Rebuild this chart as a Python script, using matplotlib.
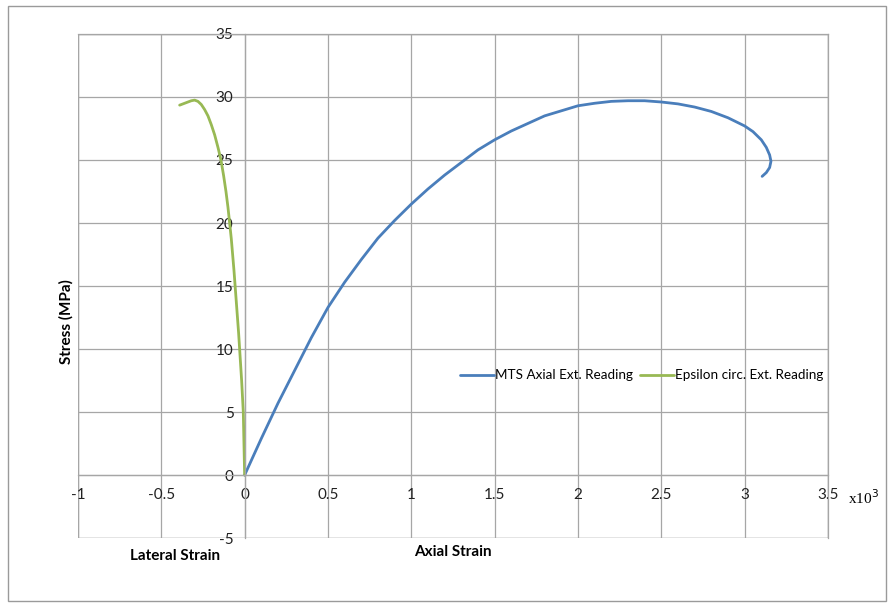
import matplotlib
matplotlib.use("Agg")
import matplotlib.pyplot as plt
from matplotlib.patches import Rectangle

plt.rcParams["font.family"] = ["Lato", "DejaVu Sans"]
plt.rcParams["axes.unicode_minus"] = False

# axial extensometer (x10^3 strain) vs stress (MPa)
axial_strain = [0.0, 0.1, 0.2, 0.3, 0.4, 0.5, 0.6, 0.7, 0.8, 0.9, 1.0, 1.1, 1.2, 1.3,
                1.4, 1.5, 1.6, 1.7, 1.8, 1.9, 2.0, 2.1, 2.2, 2.3, 2.4, 2.5, 2.6, 2.7,
                2.8, 2.9, 3.0, 3.05, 3.1, 3.13, 3.15, 3.158, 3.15, 3.13, 3.105]
axial_stress = [0.0, 2.9, 5.7, 8.3, 10.9, 13.3, 15.3, 17.1, 18.8, 20.2, 21.5, 22.7,
                23.8, 24.8, 25.8, 26.6, 27.3, 27.9, 28.5, 28.9, 29.3, 29.5, 29.65,
                29.7, 29.7, 29.6, 29.45, 29.2, 28.85, 28.35, 27.7, 27.25, 26.6, 26.0,
                25.4, 24.9, 24.4, 24.0, 23.7]

# circumferential extensometer (lateral strain, x10^3) vs stress (MPa)
lateral_strain = [0.0, -0.002, -0.004, -0.008, -0.013, -0.018, -0.024, -0.030, -0.036,
                  -0.043, -0.05, -0.057, -0.064, -0.072, -0.08, -0.09, -0.1, -0.112,
                  -0.126, -0.142, -0.16, -0.18, -0.2, -0.22, -0.24, -0.26, -0.28,
                  -0.3, -0.32, -0.34, -0.36, -0.38, -0.39]
lateral_stress = [0.0, 1.25, 2.5, 5.0, 6.25, 7.5, 8.75, 10.0, 11.25, 12.5, 13.75, 15.0,
                  16.25, 17.5, 18.75, 20.0, 21.25, 22.5, 23.75, 25.0, 26.0, 27.0, 27.8,
                  28.5, 29.0, 29.4, 29.65, 29.75, 29.7, 29.6, 29.5, 29.4, 29.35]

x_ticks = [-1, -0.5, 0, 0.5, 1, 1.5, 2, 2.5, 3, 3.5]
x_labels = ["-1", "-0.5", "0", "0.5", "1", "1.5", "2", "2.5", "3", "3.5"]
y_ticks = [-5, 0, 5, 10, 15, 20, 25, 30, 35]

blue = "#4a7ebb"
green = "#98b954"
grid_c = "#a6a6a6"

fig = plt.figure(figsize=(8.9, 6.06), dpi=100)
fig.patches.append(Rectangle((0.009, 0.008), 0.986, 0.982, transform=fig.transFigure,
                             fill=False, edgecolor="#9a9a9a", linewidth=1.0))
ax = fig.add_axes([0.0876, 0.112, 0.8427, 0.832])

ax.plot(axial_strain, axial_stress, color=blue, lw=2.0, label="MTS Axial Ext. Reading",
        solid_capstyle="round", solid_joinstyle="round")
ax.plot(lateral_strain, lateral_stress, color=green, lw=2.0, label="Epsilon circ. Ext. Reading",
        solid_capstyle="round", solid_joinstyle="round")

ax.set_xlim(-1, 3.5)
ax.set_ylim(-5, 35)
ax.set_xticks(x_ticks)
ax.set_xticklabels(x_labels)
ax.set_yticks(y_ticks)
ax.grid(True, color=grid_c, lw=0.9)
ax.set_axisbelow(True)

# axes cross at the origin; plot area gets its own frame
ax.spines["left"].set_position(("data", 0))
ax.spines["bottom"].set_position(("data", 0))
for s in ax.spines.values():
    s.set_color(grid_c)
    s.set_linewidth(0.9)
ax.add_patch(Rectangle((0, 0), 1, 1, transform=ax.transAxes, fill=False,
                       edgecolor=grid_c, linewidth=1.0, zorder=0.5))
ax.tick_params(length=0, labelsize=11, colors="#222222")
ax.tick_params(axis="x", pad=9)
ax.tick_params(axis="y", pad=8)

ax.legend(loc="center", bbox_to_anchor=(0.752, 0.323), ncol=2, frameon=False,
          fontsize=9.7, handlelength=2.5, handletextpad=0.1, columnspacing=0.5)

fig.text(0.074, 0.47, "Stress (MPa)", rotation=90, ha="center", va="center",
         fontsize=11, fontweight="bold")
fig.text(0.197, 0.082, "Lateral Strain", ha="center", va="center",
         fontsize=11, fontweight="bold")
fig.text(0.509, 0.089, "Axial Strain", ha="center", va="center",
         fontsize=11, fontweight="bold")
fig.text(0.953, 0.178, "x10$^3$", ha="left", va="center", fontsize=11,
         family="Liberation Serif")

fig.savefig("out.png", dpi=100)
